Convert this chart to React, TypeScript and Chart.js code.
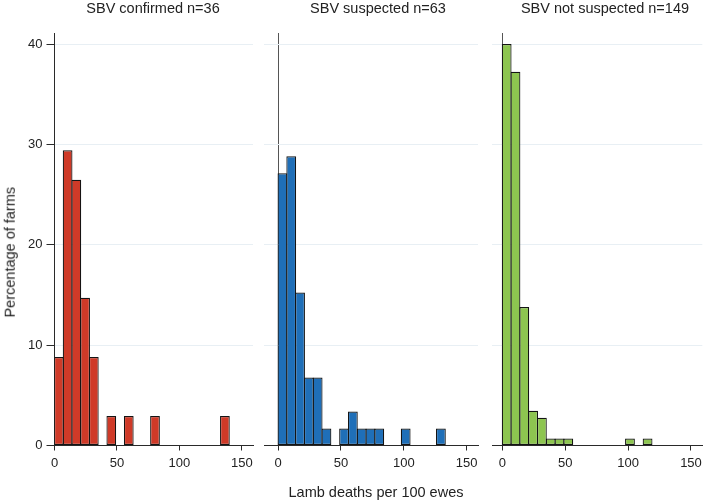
import React, { useEffect, useRef } from "react";
import { Chart, registerables } from "chart.js";

Chart.register(...registerables);

// ---- Data ----
const BIN_START = 0;
const BIN_WIDTH = 7;
// Percentage of farms per 7-unit bin (bin 0 = 0–7, bin 1 = 7–14, ...)
const confirmedPct = [8.82, 29.41, 26.47, 14.71, 8.82, 0, 2.94, 0, 2.94, 0, 0, 2.94, 0, 0, 0, 0, 0, 0, 0, 2.94];
const suspectedPct = [27.12, 28.81, 15.25, 6.78, 6.78, 1.69, 0, 1.69, 3.39, 1.69, 1.69, 1.69, 0, 0, 1.69, 0, 0, 0, 1.69];
const notSuspectedPct = [40.0, 37.24, 13.79, 3.45, 2.76, 0.69, 0.69, 0.69, 0, 0, 0, 0, 0, 0, 0.69, 0, 0.69];

const Y_TICKS = [0, 10, 20, 30, 40];
const X_TICKS = [0, 50, 100, 150];
const PANEL_TITLES = ["SBV confirmed n=36", "SBV suspected n=63", "SBV not suspected n=149"];
const X_TITLE = "Lamb deaths per 100 ewes";
const Y_TITLE = "Percentage of farms";

const COLORS = ["#cf3a28", "#1f6fb8", "#8dc550"];
const FONT = '"Liberation Sans", Arial, Helvetica, sans-serif';
const TEXT = "#222";
const AXIS = "#2a2a2a";
const GRID = "#e8eff4";

type PanelProps = {
  values: number[];
  color: string;
  xMin: number;
  xMax: number;
  showY: boolean;
  left: number;
  width: number;
  padL: number;
  padR: number;
  axisColor: string;
};

function Panel(p: PanelProps) {
  const ref = useRef<HTMLCanvasElement>(null);
  useEffect(() => {
    const data = p.values.map((v, i) => ({
      x: BIN_START + i * BIN_WIDTH + BIN_WIDTH / 2,
      y: v > 0 ? v : null,
    }));
    const chart = new Chart(ref.current as HTMLCanvasElement, {
      type: "bar",
      data: {
        datasets: [
          {
            data: data as any,
            backgroundColor: p.color,
            borderColor: "#141414",
            borderWidth: 1.2,
            borderSkipped: false,
            barPercentage: 1.114,
            categoryPercentage: 1,
          } as any,
        ],
      },
      options: {
        animation: false,
        responsive: false,
        maintainAspectRatio: false,
        layout: { padding: { left: p.padL, right: p.padR, top: 33, bottom: 0 }, autoPadding: false } as any,
        plugins: { legend: { display: false }, tooltip: { enabled: false }, title: { display: false } },
        scales: {
          x: {
            type: "linear",
            min: p.xMin,
            max: p.xMax,
            offset: false,
            afterBuildTicks: (s: any) => {
              s.ticks = X_TICKS.map((v) => ({ value: v }));
            },
            afterFit: (s: any) => {
              s.height = 54.5;
            },
            grid: {
              offset: false,
              color: (c: any) => (c.tick && c.tick.value === 0 ? p.axisColor : "transparent"),
              tickColor: AXIS,
              tickLength: 5,
              lineWidth: 1,
            },
            border: { display: true, color: AXIS, width: 1 },
            ticks: {
              font: { family: FONT, size: 13 },
              color: TEXT,
              padding: 5,
              maxRotation: 0,
              autoSkip: false,
            },
          } as any,
          y: {
            min: 0,
            max: 41.1,
            afterBuildTicks: (s: any) => {
              s.ticks = Y_TICKS.map((v) => ({ value: v }));
            },
            afterFit: (s: any) => {
              s.width = p.showY ? 54.5 : 0;
            },
            grid: {
              color: (c: any) => (c.tick && c.tick.value === 0 ? "transparent" : GRID),
              tickColor: AXIS,
              tickLength: p.showY ? 8 : 0,
              drawTicks: p.showY,
            },
            border: { display: p.showY, color: AXIS, width: 1 },
            ticks: {
              display: p.showY,
              font: { family: FONT, size: 13 },
              color: TEXT,
              padding: 4,
            },
          } as any,
        },
      },
    });
    return () => chart.destroy();
  }, []);
  return (
    <canvas
      ref={ref}
      width={p.width}
      height={500}
      style={{ position: "absolute", left: p.left, top: 0, width: p.width, height: 500 }}
    />
  );
}

const titleStyle = (center: number, top: number): React.CSSProperties => ({
  position: "absolute",
  left: center - 120,
  width: 240,
  top,
  textAlign: "center",
  fontFamily: FONT,
  fontSize: 14.5,
  lineHeight: "14.5px",
  color: TEXT,
  whiteSpace: "nowrap",
});

export default function App() {
  return (
    <div
      style={{
        position: "absolute",
        left: 0,
        top: 0,
        width: 708,
        height: 500,
        background: "#fff",
        overflow: "hidden",
      }}
    >
      <Panel values={confirmedPct} color={COLORS[0]} xMin={0} xMax={159} showY={true}
        left={0} width={262} padL={0} padR={9} axisColor={AXIS} />
      <Panel values={suspectedPct} color={COLORS[1]} xMin={-11} xMax={159} showY={false}
        left={258} width={230} padL={6.2} padR={10} axisColor="#555" />
      <Panel values={notSuspectedPct} color={COLORS[2]} xMin={-8} xMax={159} showY={false}
        left={488} width={220} padL={4.2} padR={5.7} axisColor="#555" />
      <div style={titleStyle(153, 1)}>{PANEL_TITLES[0]}</div>
      <div style={titleStyle(378, 1)}>{PANEL_TITLES[1]}</div>
      <div style={titleStyle(605, 1)}>{PANEL_TITLES[2]}</div>
      <div style={titleStyle(376, 484.5)}>{X_TITLE}</div>
      <div
        style={{
          ...titleStyle(0, 0),
          left: 10 - 120,
          top: 252 - 7.25,
          transform: "rotate(-90deg)",
          transformOrigin: "50% 50%",
        }}
      >
        {Y_TITLE}
      </div>
    </div>
  );
}
